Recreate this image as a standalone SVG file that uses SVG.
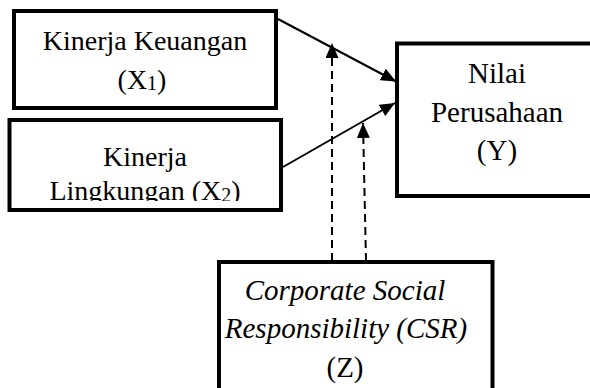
<svg xmlns="http://www.w3.org/2000/svg" width="590" height="388" viewBox="0 0 590 388">
<style>
.box{fill:#fff;stroke:#000;stroke-width:4}
.t{font-family:"Liberation Serif","Times New Roman",serif;font-size:28px;fill:#000;text-anchor:middle}
.it{font-style:italic}
.ln{stroke:#000;stroke-width:2;fill:none}
.dash{stroke:#000;stroke-width:2;fill:none;stroke-dasharray:8 5}
</style>
<defs>
<marker id="ah" markerUnits="userSpaceOnUse" markerWidth="15" markerHeight="13" refX="15" refY="6.5" orient="auto">
<path d="M0,0 L15,6.5 L0,13 z" fill="#000"/>
</marker>
<clipPath id="c2"><rect x="0" y="120" width="300" height="81"/></clipPath>
</defs>
<rect width="590" height="388" fill="#fff"/>
<g id="x1">
<rect class="box" x="14" y="11" width="262" height="97"/>
<text class="t" x="145" y="50">Kinerja Keuangan</text>
<text class="t" x="142" y="89">(X<tspan font-size="20" dy="1">1</tspan><tspan dy="-1">)</tspan></text>
</g>
<g id="x2">
<rect class="box" x="9.5" y="120" width="271.5" height="90"/>
<g clip-path="url(#c2)">
<text class="t" x="145" y="166">Kinerja</text>
<text class="t" x="145" y="200">Lingkungan (X<tspan font-size="20" dy="2">2</tspan><tspan dy="-2">)</tspan></text>
</g>
</g>
<g id="y">
<rect class="box" x="397" y="43.5" width="200" height="152.5"/>
<text class="t" style="font-size:29px" x="497" y="83">Nilai</text>
<text class="t" style="font-size:29px" x="497" y="122">Perusahaan</text>
<text class="t" style="font-size:29px" x="497" y="160">(Y)</text>
</g>
<g id="z">
<rect class="box" x="219" y="262" width="273.5" height="140"/>
<text class="t it" style="font-size:29px" x="345" y="300">Corporate Social</text>
<text class="t it" style="font-size:29px" x="346" y="338">Responsibility (CSR)</text>
<text class="t" style="font-size:29px" x="345" y="377">(Z)</text>
</g>
<g id="connectors">
<line class="ln" x1="278" y1="19" x2="396" y2="81.5" marker-end="url(#ah)"/>
<line class="ln" x1="283" y1="167" x2="395" y2="103" marker-end="url(#ah)"/>
<line class="dash" x1="332" y1="261" x2="332" y2="43" marker-end="url(#ah)"/>
<line class="dash" x1="366" y1="261" x2="363" y2="123" marker-end="url(#ah)"/>
</g>
</svg>
